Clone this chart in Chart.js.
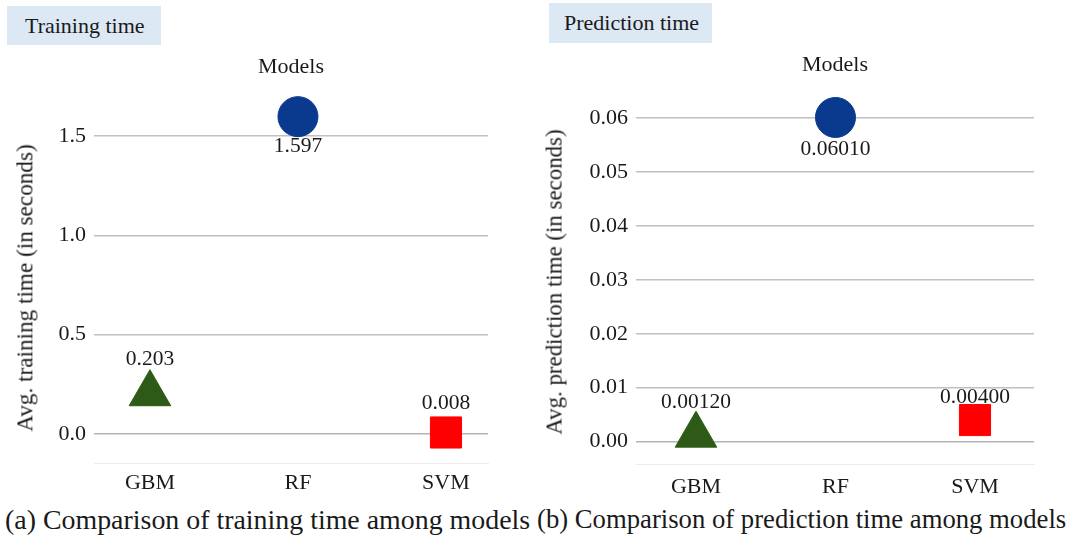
<!DOCTYPE html>
<html lang="en">
<head>
    <meta charset="UTF-8">
    <title>Training and prediction time</title>
    <script src="https://cdn.jsdelivr.net/npm/chart.js"></script>
    <style>
        body { margin: 0; width: 1071px; height: 540px; background: #fff; position: relative; overflow: hidden;
               font-family: "Liberation Serif", "Times New Roman", serif; color: #1a1a1a; }
        .box { position: absolute; background: #dce8f4; font-size: 22px; line-height: 39px; padding-left: 18px; }
        .caption { position: absolute; top: 504px; white-space: nowrap; }
        .wrap { position: absolute; top: 50px; }
        .ytitle { position: absolute; white-space: nowrap; line-height: 1; z-index: 2;
                  transform: translate(-50%, -50%) rotate(-90deg); }
    </style>
</head>
<body>
    <div class="box" style="left:7px; top:6px; width:136px; height:39px;">Training time</div>
    <div class="box" style="left:549px; top:3px; width:148px; height:40px; padding-left:15px; line-height:40px;">Prediction time</div>

    <div class="wrap" style="left:0; width:500px; height:446px;"><canvas id="trainChart"></canvas></div>
    <div class="wrap" style="left:530px; width:520px; height:450px;"><canvas id="predChart"></canvas></div>

    <div class="ytitle" style="left:25px; top:288px; font-size:23.2px;">Avg. training time (in seconds)</div>
    <div class="ytitle" style="left:555px; top:282px; font-size:22.9px;">Avg. prediction time (in seconds)</div>

    <div class="caption" style="left:5px; font-size:27.9px;">(a) Comparison of training time among models</div>
    <div class="caption" style="left:537px; font-size:26.7px;">(b) Comparison of prediction time among models</div>

    <script>
        // valeurs
        const models = ['GBM', 'RF', 'SVM'];
        const trainTime = [0.203, 1.597, 0.008];
        const predTime = [0.00120, 0.06010, 0.00400];
        const trainLabels = ['0.203', '1.597', '0.008'];
        const predLabels = ['0.00120', '0.06010', '0.00400'];
        const trainTicks = [0.0, 0.5, 1.0, 1.5];
        const predTicks = [0.00, 0.01, 0.02, 0.03, 0.04, 0.05, 0.06];

        const markerStyle = ['triangle', 'circle', 'rect'];
        const markerColor = ['#2d5a17', '#0a3a8e', '#ff0000'];
        const markerRadius = [24, 20, 22];

        const serif = '"Liberation Serif", "Times New Roman", serif';
        Chart.defaults.font.family = serif;
        Chart.defaults.color = '#1a1a1a';

        // étiquettes de valeur au-dessus / en dessous des marqueurs
        const valueLabels = {
            id: 'valueLabels',
            afterDatasetsDraw(chart, args, opts) {
                const ctx = chart.ctx;
                ctx.save();
                ctx.font = '21.5px ' + serif;
                ctx.fillStyle = '#1a1a1a';
                ctx.textAlign = 'center';
                ctx.textBaseline = 'middle';
                chart.data.datasets.forEach((ds, i) => {
                    const el = chart.getDatasetMeta(i).data[0];
                    ctx.fillText(opts.texts[i], el.x, el.y + opts.offsets[i]);
                });
                ctx.restore();
            }
        };

        function makeChart(id, values, texts, ticks, digits, yMin, yMax, xMin, xMax, offsets, titlePad, xPad, rightPad, yWidth) {
            const datasets = models.map((m, i) => ({
                label: m,
                data: [{ x: i, y: values[i] }],
                pointStyle: markerStyle[i],
                pointRadius: markerRadius[i],
                pointHoverRadius: markerRadius[i],
                backgroundColor: markerColor[i],
                borderColor: markerColor[i],
                borderWidth: 1
            }));
            return new Chart(document.getElementById(id), {
                type: 'scatter',
                data: { datasets },
                plugins: [valueLabels],
                options: {
                    responsive: true,
                    maintainAspectRatio: false,
                    animation: false,
                    layout: { autoPadding: false, padding: { left: 0, right: rightPad, top: 0, bottom: 0 } },
                    plugins: {
                        legend: { display: false },
                        tooltip: { enabled: false },
                        title: {
                            display: true,
                            fullSize: false,
                            text: 'Models',
                            color: '#1a1a1a',
                            font: { size: 22, weight: 'normal', family: serif },
                            padding: titlePad
                        },
                        valueLabels: { texts, offsets }
                    },
                    scales: {
                        x: {
                            type: 'linear',
                            min: xMin,
                            max: xMax,
                            afterBuildTicks: s => { s.ticks = models.map((m, i) => ({ value: i })); },
                            afterFit: s => { s.paddingLeft = 0; s.paddingRight = 0; s.height = xPad + 26.4; },
                            ticks: {
                                font: { size: 22 },
                                padding: xPad,
                                callback: v => models[v]
                            },
                            grid: { display: false, drawTicks: false },
                            border: { display: true, color: '#ececec', width: 1 }
                        },
                        y: {
                            min: yMin,
                            max: yMax,
                            afterBuildTicks: s => { s.ticks = ticks.map(v => ({ value: v })); },
                            afterFit: s => { s.width = yWidth; },
                            ticks: {
                                font: { size: 22 },
                                padding: 8,
                                callback: v => v.toFixed(digits)
                            },
                            grid: {
                                drawTicks: false,
                                color: ctx => ctx.tick && ctx.tick.value === 0 ? '#b4b4b4' : '#c0c0c0',
                                lineWidth: 1.6
                            },
                            border: { display: false }
                        }
                    }
                }
            });
        }

        makeChart('trainChart', trainTime, trainLabels, trainTicks, 1,
            -0.146, 1.731, -0.378, 2.284,
            [-34, 30, -29], { top: 4, bottom: 9.6 }, 6.5, 12, 94);

        makeChart('predChart', predTime, predLabels, predTicks, 2,
            -0.00426, 0.06556, -0.43, 2.423,
            [-33, 32, -23], { top: 2, bottom: 9.6 }, 9, 16, 106);
    </script>
</body>
</html>
